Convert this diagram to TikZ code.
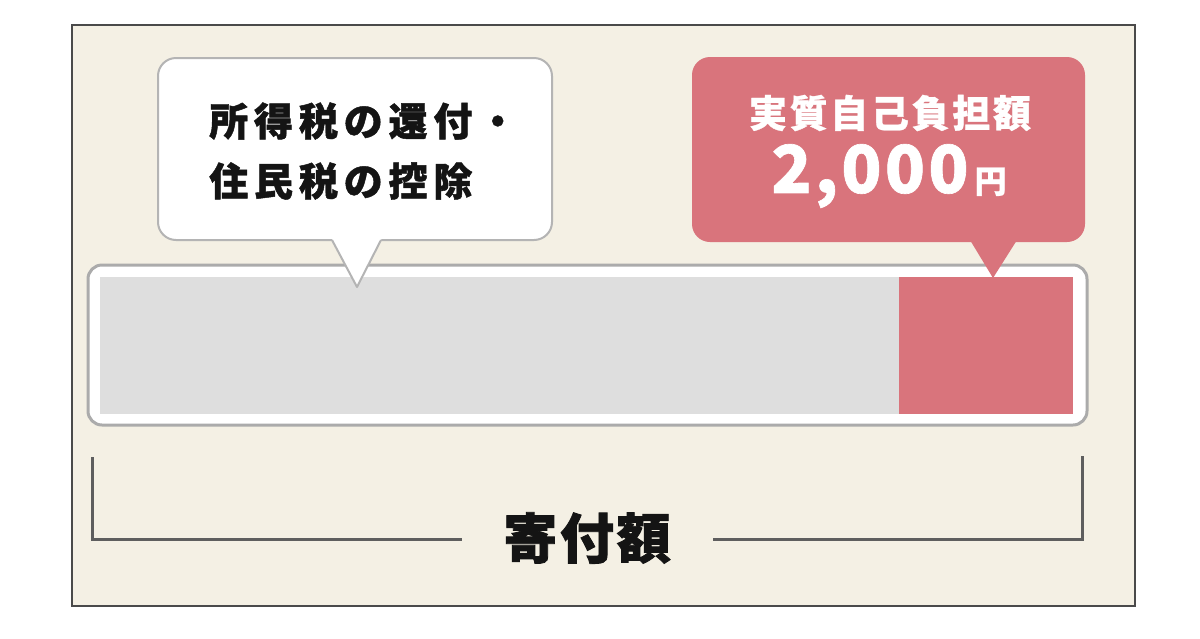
\documentclass[tikz,border=0pt]{standalone}
\usepackage{fontspec}
\usetikzlibrary{calc}
\newfontfamily\jp{Noto Sans CJK JP}
\definecolor{bg}{HTML}{F4F0E4}
\definecolor{panelborder}{HTML}{4A4A4A}
\definecolor{barborder}{HTML}{ABABAB}
\definecolor{bargray}{HTML}{DEDEDE}
\definecolor{accent}{HTML}{D9747C}
\definecolor{bracketcol}{HTML}{5E5E5E}
\definecolor{ink}{HTML}{141414}
\definecolor{bubbleborder}{HTML}{B4B4B4}
\begin{document}
\begin{tikzpicture}[x=1pt,y=-1pt,
  box/.style={rectangle,inner sep=0pt,outer sep=0pt},
  panel/.style={box,fill=bg,draw=panelborder,line width=1.2pt},
  barframe/.style={box,fill=white,draw=barborder,line width=3pt,rounded corners=14pt},
  barpart/.style={box,fill=bargray},
  redpart/.style={box,fill=accent},
  notebox/.style={box,fill=white,draw=bubbleborder,line width=2pt,rounded corners=18pt},
  costbox/.style={box,fill=accent,rounded corners=18pt},
  notetext/.style={inner sep=0pt,text=ink,align=left,
    font=\jp\bfseries\fontsize{39}{60}\selectfont\addfontfeature{LetterSpace=15,FakeBold=1.2}},
  costtext/.style={inner sep=0pt,text=white,
    font=\jp\bfseries\fontsize{38}{40}\selectfont\addfontfeature{LetterSpace=7,FakeBold=0.8}},
  bigtext/.style={inner sep=0pt,text=white,font=\jp\bfseries},
  totaltext/.style={inner sep=0pt,text=ink,
    font=\jp\bfseries\fontsize{54}{56}\selectfont\addfontfeature{LetterSpace=5,FakeBold=1.5}},
  bracketline/.style={draw=bracketcol,line width=3pt}
]
\useasboundingbox (0,0) rectangle (1200,638);
\fill[white] (0,0) rectangle (1200,638);
% panel
\node[panel,minimum width=1063pt,minimum height=581pt] (panel) at (603.5,315.5) {};
% bar
\node[barframe,minimum width=999pt,minimum height=160pt] (bar) at (587.5,345) {};
\node[barpart,minimum width=799pt,minimum height=137pt] (barleft) at (499.5,345.5) {};
\node[redpart,minimum width=174pt,minimum height=137pt] (barright) at (986,345.5) {};
% left bubble
\node[notebox,minimum width=394pt,minimum height=182pt] (note) at (355,149) {};
\coordinate (noteA) at (332,240);
\coordinate (noteTip) at (357,287);
\coordinate (noteB) at (381,240);
\coordinate (noteAx) at (330.4,236);
\coordinate (noteBx) at (383,236);
\fill[white] (noteAx) -- (noteTip) -- (noteBx) -- cycle;
\draw[bubbleborder,line width=2pt,line join=round] (noteA) -- (noteTip) -- (noteB);
\node[notetext,anchor=west] (notelabel) at (209,151) {所得税の還付・\\住民税の控除};
% right bubble
\node[costbox,minimum width=393pt,minimum height=185pt] (cost) at (888.5,149.5) {};
\coordinate (costA) at (970,240);
\coordinate (costTip) at (993,278);
\coordinate (costB) at (1017,240);
\fill[accent] (costA) -- (costTip) -- (costB) -- cycle;
\node[costtext] (costlabel) at (890,113) {実質自己負担額};
\node[bigtext] (costvalue) at (889,176) {{\fontsize{66}{70}\selectfont\addfontfeature{LetterSpace=5,FakeBold=1}2,000}\kern6pt{\fontsize{32}{34}\selectfont\addfontfeature{FakeBold=0.8}円}};
% bracket
\coordinate (bl1) at (92,457);
\coordinate (bl2) at (92,539);
\coordinate (bl3) at (462,539);
\coordinate (br1) at (713,539);
\coordinate (br2) at (1082,539);
\coordinate (br3) at (1082,456);
\draw[bracketline] (bl1) -- (bl2) -- (bl3);
\draw[bracketline] (br1) -- (br2) -- (br3);
\node[totaltext] (total) at (587,538) {寄付額};
\end{tikzpicture}
\end{document}
